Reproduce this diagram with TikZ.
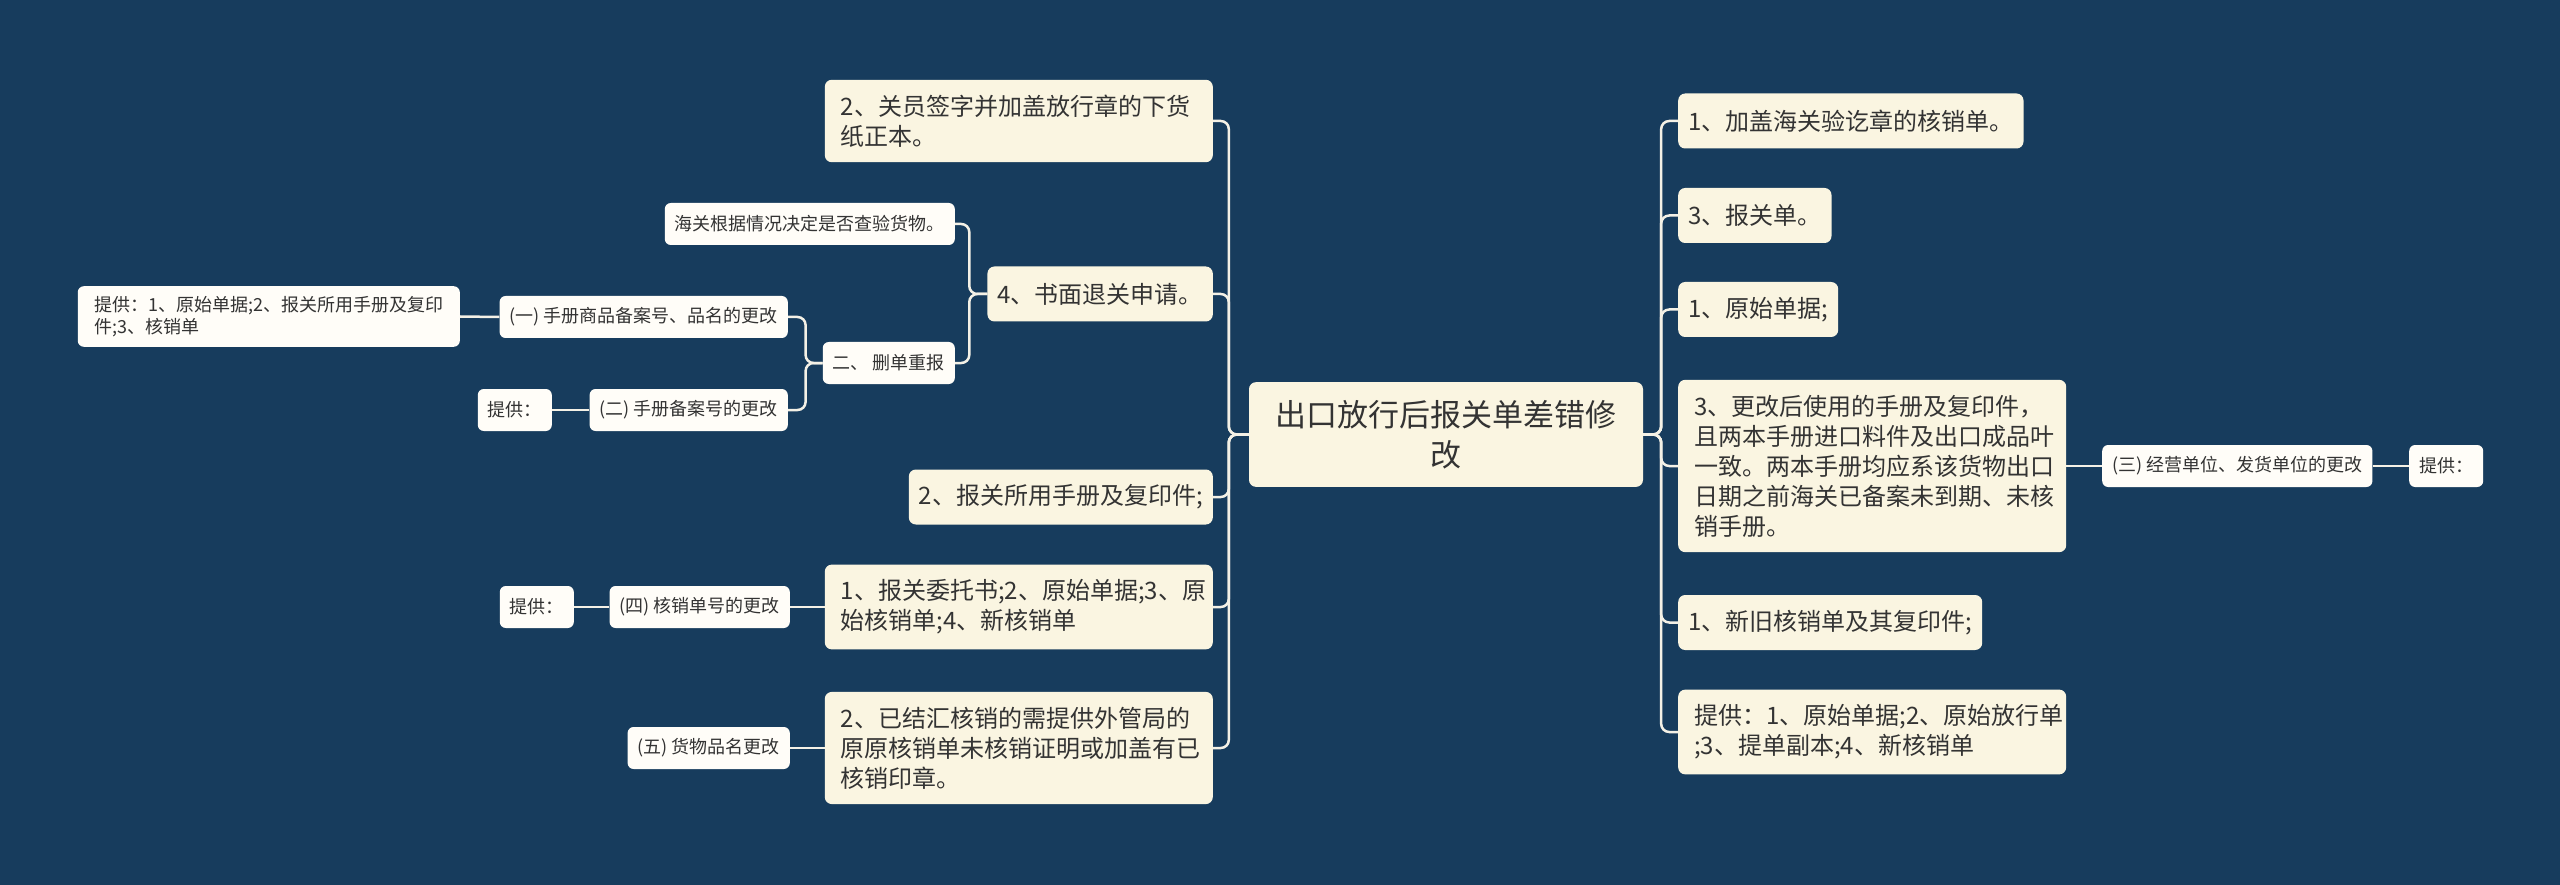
\documentclass[tikz,border=0pt]{standalone}
\usepackage{fontspec}
\setmainfont{Noto Sans CJK SC}

\definecolor{mapbg}{HTML}{173C5D}
\definecolor{cream}{HTML}{FAF5E1}
\definecolor{paper}{HTML}{FFFDF8}
\definecolor{ink}{HTML}{333333}
\definecolor{wire}{HTML}{F4F1E6}

\tikzset{
  center/.style={fill=cream, rounded corners=7pt, text=ink, align=center,
    font=\fontsize{31}{40}\selectfont, minimum width=394pt, inner ysep=18pt},
  topic/.style={fill=cream, rounded corners=7pt, text=ink, align=left,
    font=\fontsize{24}{30}\selectfont, inner xsep=10pt, inner ysep=15pt, minimum height=55pt},
  para/.style={topic, text width=356pt, inner xsep=16pt},
  detail/.style={fill=paper, rounded corners=6pt, text=ink, align=left,
    font=\fontsize{18}{22}\selectfont, inner xsep=10pt, inner ysep=10pt, minimum height=42pt},
  link/.style={draw=wire, line width=2.5pt, rounded corners=8pt}
}

\begin{document}
\begin{tikzpicture}[x=1pt, y=-1pt]

\fill[mapbg] (0,0) rectangle (2560,885);

\node[center] (Root) at (1446,434.5) {出口放行后报关单差错修\\改};

% right side
\node[topic, anchor=west] (Root-stamp) at (1678,121) {1、加盖海关验讫章的核销单。};
\node[topic, anchor=west] (Root-decl) at (1678,215.5) {3、报关单。};
\node[topic, anchor=west] (Root-orig) at (1678,309.5) {1、原始单据;};
\node[para, anchor=west] (Root-book) at (1678,466) {3、更改后使用的手册及复印件，\\且两本手册进口料件及出口成品叶\\一致。两本手册均应系该货物出口\\日期之前海关已备案未到期、未核\\销手册。};
\node[topic, anchor=west] (Root-oldnew) at (1678,622.5) {1、新旧核销单及其复印件;};
\node[para, anchor=west] (Root-supply) at (1678,732) {提供：1、原始单据;2、原始放行单\\;3、提单副本;4、新核销单};

\node[detail, anchor=west] (Book-unit) at (2102,466) {(三) 经营单位、发货单位的更改};
\node[detail, anchor=west] (Unit-supply) at (2409,466) {提供：};

% left side
\node[para, anchor=east] (Root-sign) at (1213,121) {2、关员签字并加盖放行章的下货\\纸正本。};
\node[topic, anchor=east] (Root-return) at (1213,294) {4、书面退关申请。};
\node[topic, anchor=east] (Root-manual) at (1213,497) {2、报关所用手册及复印件;};
\node[para, anchor=east] (Root-entrust) at (1213,607) {1、报关委托书;2、原始单据;3、原\\始核销单;4、新核销单};
\node[para, anchor=east] (Root-settled) at (1213,748) {2、已结汇核销的需提供外管局的\\原原核销单未核销证明或加盖有已\\核销印章。};

\node[detail, anchor=east] (Return-check) at (955,224) {海关根据情况决定是否查验货物。};
\node[detail, anchor=east] (Return-redo) at (955,363) {二、 删单重报};
\node[detail, anchor=east] (Redo-goods) at (788,317) {(一) 手册商品备案号、品名的更改};
\node[detail, anchor=east, minimum width=382pt] (Goods-supply) at (460,316.5) {提供：1、原始单据;2、报关所用手册及复印\\件;3、核销单};
\node[detail, anchor=east] (Redo-record) at (788,410) {(二) 手册备案号的更改};
\node[detail, anchor=east] (Record-supply) at (552,410) {提供：};
\node[detail, anchor=east] (Entrust-number) at (790,607) {(四) 核销单号的更改};
\node[detail, anchor=east] (Number-supply) at (574,607) {提供：};
\node[detail, anchor=east] (Settled-name) at (790,748) {(五) 货物品名更改};

% connectors
\foreach \n in {Root-stamp, Root-decl, Root-orig, Root-book, Root-oldnew, Root-supply}
  \draw[link] (Root.east) -- ++(18,0) |- (\n.west);
\foreach \n in {Root-sign, Root-return, Root-manual, Root-entrust, Root-settled}
  \draw[link] (Root.west) -- ++(-20,0) |- (\n.east);
\foreach \n in {Return-check, Return-redo}
  \draw[link] (Root-return.west) -- ++(-18,0) |- (\n.east);
\foreach \n in {Redo-goods, Redo-record}
  \draw[link] (Return-redo.west) -- ++(-17,0) |- (\n.east);

\draw[link] (Root-book.east) -- (Book-unit.west);
\draw[link] (Book-unit.east) -- (Unit-supply.west);
\draw[link] (Redo-goods.west) -- (Goods-supply.east);
\draw[link] (Redo-record.west) -- (Record-supply.east);
\draw[link] (Root-entrust.west) -- (Entrust-number.east);
\draw[link] (Entrust-number.west) -- (Number-supply.east);
\draw[link] (Root-settled.west) -- (Settled-name.east);

\end{tikzpicture}
\end{document}
